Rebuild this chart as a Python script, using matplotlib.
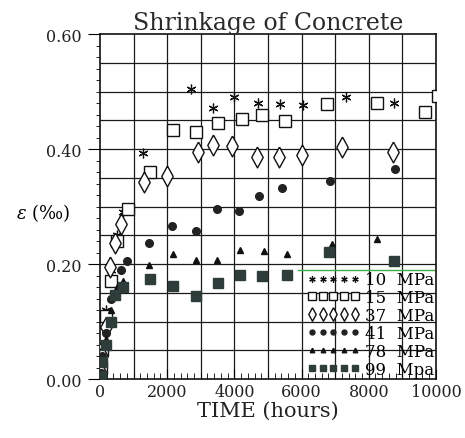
import numpy as np
import matplotlib
matplotlib.use('Agg')
import matplotlib.pyplot as plt
from matplotlib.ticker import MultipleLocator

plt.rcParams['font.family'] = ['DejaVu Serif']
plt.rcParams['mathtext.fontset'] = 'dejavuserif'

# Shrinkage readings (time in hours, strain in permille) per concrete strength
t10 = [24, 72, 168, 336, 504, 672, 1280, 2710, 3360, 3990, 4700, 5360, 6040, 7320, 8750]
e10 = [0.02, 0.06, 0.12, 0.19, 0.25, 0.29, 0.394, 0.505, 0.471, 0.49, 0.481, 0.478, 0.476, 0.49, 0.481]

t15 = [24, 72, 168, 336, 504, 840, 1490, 2170, 2860, 3510, 4230, 4820, 5510, 6760, 8240, 9670, 10050]
e15 = [0.02, 0.05, 0.11, 0.17, 0.24, 0.296, 0.361, 0.433, 0.430, 0.445, 0.452, 0.459, 0.449, 0.478, 0.481, 0.464, 0.492]

t37 = [24, 72, 168, 300, 440, 620, 1310, 2000, 2920, 3360, 3930, 4670, 5330, 6010, 7200, 8720]
e37 = [0.01, 0.04, 0.09, 0.195, 0.236, 0.27, 0.342, 0.354, 0.395, 0.407, 0.406, 0.387, 0.387, 0.389, 0.404, 0.395]

t41 = [24, 72, 168, 336, 620, 800, 1460, 2140, 2860, 3480, 4140, 4730, 5420, 6850, 8780]
e41 = [0.01, 0.04, 0.08, 0.14, 0.19, 0.205, 0.236, 0.266, 0.258, 0.296, 0.292, 0.318, 0.332, 0.344, 0.366]

t78 = [24, 72, 168, 336, 504, 672, 1460, 2170, 2860, 3480, 4170, 4880, 5570, 6900, 8240]
e78 = [0.01, 0.03, 0.07, 0.12, 0.16, 0.17, 0.198, 0.218, 0.207, 0.207, 0.224, 0.223, 0.217, 0.235, 0.244]

t99 = [24, 72, 168, 336, 440, 672, 1490, 2170, 2860, 3510, 4170, 4820, 5570, 6820, 8750]
e99 = [0.005, 0.03, 0.06, 0.10, 0.146, 0.16, 0.174, 0.162, 0.144, 0.167, 0.182, 0.179, 0.181, 0.222, 0.205]

labels = ['10  MPa', '15  MPa', '37  MPa', '41  MPa', '78  MPa', '99  Mpa']

# green mark line seen on the scan
ref_level = 0.19
ref_start = 5900

fig = plt.figure(figsize=(4.65, 4.39), dpi=100)
ax = fig.add_axes([0.215, 0.134, 0.7225, 0.786])

ax.set_xlim(0, 10000)
ax.set_ylim(0, 0.6)

# grid
for gx in np.arange(1000, 10000, 1000):
    ax.axvline(gx, color='#1a1a1a', lw=0.9, zorder=1)
for gy in np.arange(0.05, 0.6, 0.05):
    ax.axhline(gy, color='#1a1a1a', lw=0.9, zorder=1)
ax.plot([ref_start, 10000], [ref_level, ref_level], color='#3cb043', lw=1.0, zorder=1.5)

# tall thin diamond like the scan
diamond = [(0, 1), (0.55, 0), (0, -1), (-0.55, 0), (0, 1)]

k = '#111111'
ax.plot(t10, e10, ls='none', marker=(6, 2, 0), ms=7, mec=k, mew=0.9, zorder=3, label=labels[0])
ax.plot(t15, e15, ls='none', marker='s', ms=9, mfc='white', mec=k, mew=1.0, zorder=3, label=labels[1])
ax.plot(t37, e37, ls='none', marker=diamond, ms=15, mfc='white', mec=k, mew=1.0, zorder=3, label=labels[2])
ax.plot(t41, e41, ls='none', marker='o', ms=5.5, mfc='#222222', mec='#222222', zorder=3, label=labels[3])
ax.plot(t78, e78, ls='none', marker='^', ms=5, mfc=k, mec=k, zorder=3, label=labels[4])
ax.plot(t99, e99, ls='none', marker='s', ms=6.5, mfc='#2f3d3a', mec='#2f3d3a', zorder=3, label=labels[5])

for s in ax.spines.values():
    s.set_linewidth(1.2)
    s.set_color('#111111')

ax.xaxis.set_major_locator(MultipleLocator(2000))
ax.xaxis.set_minor_locator(MultipleLocator(200))
ax.yaxis.set_major_locator(MultipleLocator(0.2))
ax.yaxis.set_minor_locator(MultipleLocator(0.02))
ax.tick_params(axis='x', which='both', direction='in', top=False, labelsize=11.5, pad=3,
               labelcolor='#222222')
ax.tick_params(axis='x', which='major', length=7)
ax.tick_params(axis='x', which='minor', length=4)
ax.tick_params(axis='y', which='both', direction='out', right=False, labelsize=11.5, pad=4,
               labelcolor='#222222')
ax.tick_params(axis='y', which='major', length=9)
ax.tick_params(axis='y', which='minor', length=3)
ax.set_yticklabels(['%.2f' % v for v in ax.get_yticks()])

ax.set_title('Shrinkage of Concrete', fontsize=17, pad=1, color='#2a2a2a')
ax.set_xlabel('TIME (hours)', fontsize=15, labelpad=0, color='#222222')
ax.set_ylabel(r'$\epsilon$ (‰)', fontsize=13, rotation=0, ha='center', va='center')
ax.yaxis.set_label_coords(-0.17, 0.484)

ax.legend(loc='lower right', bbox_to_anchor=(1.0, 0.0), frameon=False, numpoints=5,
          handlelength=3.2, handletextpad=0.3, labelspacing=0.05, borderpad=0.1,
          borderaxespad=0.0, fontsize=12, markerscale=0.65)

fig.savefig('out.png', dpi=100)
